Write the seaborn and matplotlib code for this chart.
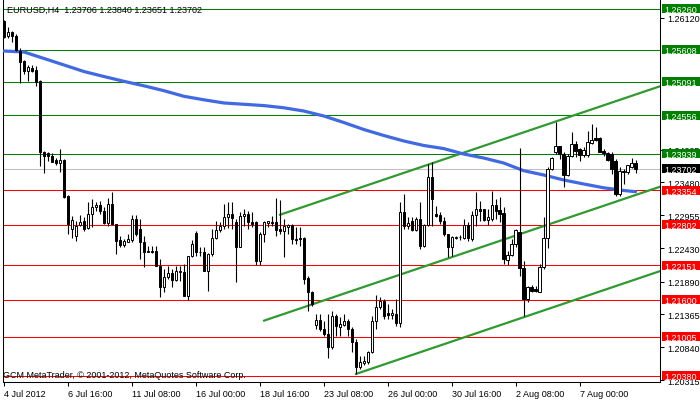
import matplotlib
matplotlib.use("Agg")
import matplotlib.pyplot as plt
import matplotlib.transforms as mtransforms
from matplotlib.patches import Rectangle
import numpy as np
import pandas as pd
import seaborn as sns

sns.set_theme(style="white")
plt.rcParams['font.family'] = ['Liberation Sans', 'DejaVu Sans']

# EURUSD H4 bars (bar 0 = 4 Jul 2012 00:00)
opens = [1.2607, 1.2583, 1.2589, 1.2583, 1.2559, 1.2543, 1.2527, 1.2531, 1.2528, 1.2511,
         1.2397, 1.2395, 1.2390, 1.2384, 1.2379, 1.2384, 1.2326, 1.2273, 1.2262, 1.2280,
         1.2286, 1.2275, 1.2298, 1.2309, 1.2312, 1.2302, 1.2283, 1.2314, 1.2281, 1.2256,
         1.2248, 1.2253, 1.2256, 1.2289, 1.2273, 1.2253, 1.2238, 1.2238, 1.2238, 1.2214,
         1.2181, 1.2197, 1.2203, 1.2192, 1.2205, 1.2205, 1.2166, 1.2230, 1.2267, 1.2237,
         1.2237, 1.2206, 1.2233, 1.2259, 1.2272, 1.2278, 1.2293, 1.2298, 1.2285, 1.2245,
         1.2294, 1.2298, 1.2285, 1.2285, 1.2222, 1.2265, 1.2283, 1.2285, 1.2285, 1.2273,
         1.2270, 1.2277, 1.2280, 1.2257, 1.2259, 1.2259, 1.2195, 1.2173, 1.2120, 1.2128,
         1.2113, 1.2105, 1.2084, 1.2134, 1.2116, 1.2120, 1.2126, 1.2113, 1.2092, 1.2052,
         1.2059, 1.2060, 1.2076, 1.2126, 1.2148, 1.2158, 1.2139, 1.2136, 1.2137, 1.2123,
         1.2301, 1.2278, 1.2286, 1.2272, 1.2289, 1.2246, 1.2280, 1.2357, 1.2298, 1.2296,
         1.2286, 1.2265, 1.2245, 1.2259, 1.2261, 1.2259, 1.2280, 1.2257, 1.2296, 1.2306,
         1.2306, 1.2288, 1.2289, 1.2312, 1.2304, 1.2299, 1.2224, 1.2232, 1.2249, 1.2269,
         1.2211, 1.2161, 1.2181, 1.2177, 1.2173, 1.2213, 1.2259, 1.2370, 1.2397, 1.2406,
         1.2394, 1.2360, 1.2390, 1.2410, 1.2402, 1.2392, 1.2392, 1.2411, 1.2419, 1.2419,
         1.2398, 1.2395, 1.2394, 1.2382, 1.2330, 1.2365, 1.2365, 1.2373, 1.2379]
highs = [1.2608, 1.2597, 1.2591, 1.2586, 1.2563, 1.2544, 1.2536, 1.2536, 1.2535, 1.2512,
         1.2398, 1.2397, 1.2395, 1.2387, 1.2402, 1.2386, 1.2328, 1.2294, 1.2286, 1.2296,
         1.2293, 1.2317, 1.2322, 1.2317, 1.2318, 1.2309, 1.2323, 1.2333, 1.2281, 1.2262,
         1.2257, 1.2265, 1.2296, 1.2296, 1.2289, 1.2262, 1.2246, 1.2246, 1.2246, 1.2225,
         1.2209, 1.2214, 1.2209, 1.2214, 1.2214, 1.2217, 1.2230, 1.2256, 1.2270, 1.2245,
         1.2245, 1.2235, 1.2273, 1.2286, 1.2285, 1.2314, 1.2317, 1.2317, 1.2289, 1.2301,
         1.2306, 1.2302, 1.2301, 1.2286, 1.2269, 1.2286, 1.2286, 1.2294, 1.2323, 1.2320,
         1.2289, 1.2281, 1.2281, 1.2277, 1.2277, 1.2261, 1.2198, 1.2174, 1.2137, 1.2137,
         1.2126, 1.2137, 1.2142, 1.2137, 1.2132, 1.2137, 1.2129, 1.2116, 1.2097, 1.2070,
         1.2070, 1.2078, 1.2134, 1.2168, 1.2165, 1.2161, 1.2153, 1.2145, 1.2161, 1.2317,
         1.2330, 1.2293, 1.2293, 1.2293, 1.2317, 1.2281, 1.2378, 1.2381, 1.2310, 1.2301,
         1.2293, 1.2265, 1.2262, 1.2262, 1.2264, 1.2289, 1.2285, 1.2302, 1.2333, 1.2318,
         1.2306, 1.2306, 1.2334, 1.2322, 1.2325, 1.2309, 1.2238, 1.2257, 1.2273, 1.2403,
         1.2222, 1.2182, 1.2184, 1.2182, 1.2217, 1.2293, 1.2373, 1.2389, 1.2445, 1.2406,
         1.2397, 1.2394, 1.2429, 1.2414, 1.2403, 1.2405, 1.2430, 1.2442, 1.2437, 1.2421,
         1.2402, 1.2397, 1.2397, 1.2386, 1.2373, 1.2370, 1.2376, 1.2387, 1.2384]
lows = [1.2580, 1.2580, 1.2573, 1.2559, 1.2507, 1.2522, 1.2511, 1.2525, 1.2503, 1.2374,
        1.2363, 1.2382, 1.2381, 1.2376, 1.2365, 1.2323, 1.2265, 1.2259, 1.2254, 1.2278,
        1.2270, 1.2273, 1.2277, 1.2302, 1.2298, 1.2281, 1.2278, 1.2281, 1.2233, 1.2245,
        1.2245, 1.2253, 1.2253, 1.2262, 1.2225, 1.2213, 1.2237, 1.2235, 1.2214, 1.2165,
        1.2173, 1.2193, 1.2181, 1.2190, 1.2190, 1.2166, 1.2160, 1.2229, 1.2230, 1.2230,
        1.2206, 1.2174, 1.2230, 1.2257, 1.2269, 1.2273, 1.2275, 1.2273, 1.2189, 1.2245,
        1.2278, 1.2273, 1.2277, 1.2216, 1.2216, 1.2253, 1.2277, 1.2278, 1.2262, 1.2265,
        1.2229, 1.2265, 1.2249, 1.2249, 1.2246, 1.2185, 1.2142, 1.2150, 1.2113, 1.2110,
        1.2102, 1.2067, 1.2081, 1.2102, 1.2102, 1.2118, 1.2102, 1.2076, 1.2041, 1.2049,
        1.2056, 1.2057, 1.2075, 1.2113, 1.2145, 1.2129, 1.2129, 1.2129, 1.2118, 1.2116,
        1.2273, 1.2273, 1.2270, 1.2270, 1.2241, 1.2245, 1.2278, 1.2278, 1.2293, 1.2281,
        1.2262, 1.2229, 1.2230, 1.2257, 1.2256, 1.2257, 1.2254, 1.2254, 1.2278, 1.2286,
        1.2286, 1.2280, 1.2286, 1.2289, 1.2285, 1.2217, 1.2216, 1.2230, 1.2245, 1.2198,
        1.2134, 1.2156, 1.2173, 1.2173, 1.2173, 1.2209, 1.2243, 1.2368, 1.2394, 1.2386,
        1.2341, 1.2358, 1.2389, 1.2389, 1.2382, 1.2389, 1.2389, 1.2410, 1.2414, 1.2397,
        1.2390, 1.2382, 1.2362, 1.2326, 1.2326, 1.2346, 1.2362, 1.2371, 1.2363]
closes = [1.2581, 1.2589, 1.2583, 1.2560, 1.2541, 1.2527, 1.2533, 1.2527, 1.2509, 1.2397,
          1.2390, 1.2390, 1.2381, 1.2379, 1.2384, 1.2325, 1.2281, 1.2288, 1.2278, 1.2285,
          1.2273, 1.2298, 1.2309, 1.2312, 1.2302, 1.2283, 1.2314, 1.2281, 1.2254, 1.2248,
          1.2254, 1.2257, 1.2289, 1.2265, 1.2253, 1.2237, 1.2237, 1.2237, 1.2214, 1.2181,
          1.2197, 1.2203, 1.2192, 1.2206, 1.2206, 1.2166, 1.2230, 1.2249, 1.2237, 1.2236,
          1.2206, 1.2233, 1.2259, 1.2272, 1.2278, 1.2293, 1.2298, 1.2291, 1.2245, 1.2294,
          1.2298, 1.2285, 1.2281, 1.2222, 1.2265, 1.2285, 1.2286, 1.2283, 1.2272, 1.2270,
          1.2278, 1.2280, 1.2257, 1.2256, 1.2258, 1.2193, 1.2173, 1.2153, 1.2128, 1.2113,
          1.2105, 1.2084, 1.2134, 1.2118, 1.2121, 1.2126, 1.2113, 1.2092, 1.2052, 1.2060,
          1.2062, 1.2076, 1.2126, 1.2148, 1.2158, 1.2134, 1.2136, 1.2139, 1.2123, 1.2301,
          1.2278, 1.2283, 1.2272, 1.2289, 1.2246, 1.2280, 1.2357, 1.2322, 1.2294, 1.2286,
          1.2265, 1.2245, 1.2261, 1.2261, 1.2260, 1.2280, 1.2259, 1.2296, 1.2306, 1.2302,
          1.2288, 1.2293, 1.2312, 1.2302, 1.2298, 1.2225, 1.2232, 1.2249, 1.2272, 1.2211,
          1.2161, 1.2181, 1.2174, 1.2174, 1.2213, 1.2259, 1.2370, 1.2387, 1.2406, 1.2394,
          1.2360, 1.2390, 1.2410, 1.2398, 1.2392, 1.2400, 1.2413, 1.2416, 1.2416, 1.2397,
          1.2395, 1.2384, 1.2370, 1.2330, 1.2366, 1.2366, 1.2376, 1.2379, 1.2370]

# moving average, sampled every few bars
ma_bars = [0, 5, 10, 15, 20, 25, 30, 35, 40, 45, 50, 55, 60, 65, 70, 75, 80, 85, 90, 95,
           100, 105, 110, 115, 120, 125, 130, 135, 140, 145, 150, 155, 158]
ma_values = [1.25587, 1.25571, 1.25467, 1.25363, 1.25258, 1.25178, 1.25101, 1.25029,
             1.24951, 1.24861, 1.24805, 1.24754, 1.24733, 1.24712, 1.24677, 1.24625,
             1.24545, 1.24441, 1.24329, 1.24233, 1.24145, 1.24073, 1.24023, 1.23936,
             1.23872, 1.23792, 1.23669, 1.23600, 1.23520, 1.23456, 1.23395, 1.23352, 1.23332]

# trend channel (start bar, start price, end bar, end price)
channel_start_bars = [69, 65, 88]
channel_start_prices = [1.22962, 1.21265, 1.20411]
channel_end_bars = [164.25, 164.25, 164.25]
channel_end_prices = [1.25025, 1.23415, 1.22063]

green_levels = [1.26260, 1.25608, 1.25091, 1.24556, 1.23939]
red_levels = [1.23354, 1.22802, 1.22151, 1.21600, 1.21005, 1.20380]
bid_level = 1.23702

price_ticks = [1.26120, 1.24005, 1.23480, 1.22955, 1.22430, 1.21890, 1.21365, 1.20840, 1.20315]
price_tick_labels = ['1.26120', '1.24005', '1.23480', '1.22955', '1.22430',
                     '1.21890', '1.21365', '1.20840', '1.20315']
date_ticks = [0, 16, 32, 48, 64, 80, 96, 112, 128, 144]
date_labels = ['4 Jul 2012', '6 Jul 16:00', '11 Jul 08:00', '16 Jul 00:00', '18 Jul 16:00',
               '23 Jul 08:00', '26 Jul 00:00', '30 Jul 16:00', '2 Aug 08:00', '7 Aug 00:00']

FS = 6.5
W, H = 700, 402

fig = plt.figure(figsize=(W / 100, H / 100), dpi=100)
ax = fig.add_axes([3 / W, 1 - 383 / H, 657 / W, 383 / H])
ax.set_facecolor('white')
ax.set_xlim(-0.25, 164.1)
ax.set_ylim(1.20283, 1.26420)

# horizontal levels
for lvl in green_levels:
    ax.axhline(lvl, color='#008000', lw=0.75, zorder=1)
for lvl in red_levels:
    ax.axhline(lvl, color='#ff0000', lw=0.75, zorder=1)
ax.axhline(bid_level, color='#c0c0c0', lw=0.75, zorder=1)

# moving average
ma_df = pd.DataFrame({'bar': ma_bars, 'price': ma_values})
sns.lineplot(data=ma_df, x='bar', y='price', ax=ax, color='#4169e1', lw=2.3,
             estimator=None, sort=False, zorder=3)

# channel lines
for i in range(len(channel_start_bars)):
    sns.lineplot(x=[channel_start_bars[i], channel_end_bars[i]],
                 y=[channel_start_prices[i], channel_end_prices[i]],
                 ax=ax, color='#2f9a2f', lw=1.6, estimator=None, zorder=2)

# candles
o = np.array(opens)
h = np.array(highs)
l = np.array(lows)
c = np.array(closes)
bars = np.arange(len(o))
ax.vlines(bars, l, h, colors='black', lw=0.8, zorder=4)
face = ['white' if cc >= oo else 'black' for oo, cc in zip(o, c)]
ax.bar(bars, np.abs(c - o), bottom=np.minimum(o, c), width=0.6, color=face,
       edgecolor='black', linewidth=0.7, zorder=5)

ax.set_xlabel('')
ax.set_ylabel('')

# frame
for side in ['left', 'right', 'bottom']:
    ax.spines[side].set_visible(True)
    ax.spines[side].set_color('black')
    ax.spines[side].set_linewidth(0.75)
ax.spines['top'].set_visible(False)

# axes ticks
ax.yaxis.tick_right()
ax.set_yticks(price_ticks)
ax.set_yticklabels(price_tick_labels)
ax.set_xticks(date_ticks)
ax.set_xticklabels(date_labels)
for lbl in ax.get_xticklabels():
    lbl.set_ha('left')
ax.tick_params(axis='both', direction='out', length=3, width=0.75, colors='black',
               labelsize=FS, pad=2, bottom=True, right=True, left=False)

# price boxes on the right
trans = mtransforms.blended_transform_factory(fig.transFigure, ax.transData)
box_h = 9 / 6241
boxes = [(v, '#008000') for v in green_levels] + [(v, '#ff0000') for v in red_levels] \
        + [(bid_level, 'black')]
for lvl, col in boxes:
    ax.add_patch(Rectangle((662 / W, lvl - box_h / 2), 38 / W, box_h, transform=trans,
                           facecolor=col, edgecolor='none', clip_on=False, zorder=10))
    ax.text(681 / W, lvl, f'{lvl:.5f}', transform=trans, color='white', ha='center',
            va='center_baseline', fontsize=FS, clip_on=False, zorder=11)

fig.text(7 / W, 1 - 10 / H, 'EURUSD,H4  1.23706 1.23840 1.23651 1.23702',
         fontsize=FS, va='center', color='black')
fig.text(3 / W, 1 - 376 / H, 'GCM MetaTrader, \u00a9 2001-2012, MetaQuotes Software Corp.',
         fontsize=FS, va='center', color='black')

fig.savefig('out.png', dpi=100)
